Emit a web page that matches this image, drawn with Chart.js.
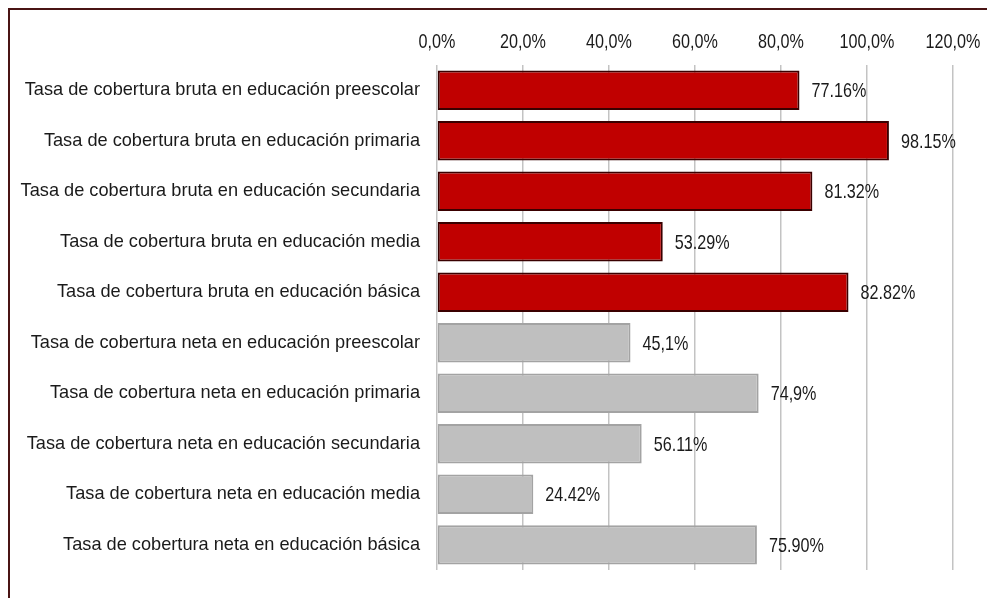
<!DOCTYPE html>
<html>
<head>
  <title>Tasa de cobertura</title>
  <style>
    body {
      margin: 0;
      background: #ffffff;
      overflow: hidden;
    }
    #wrap {
      position: relative;
      width: 987px;
      height: 598px;
    }
    #frame {
      position: absolute;
      left: 8px;
      top: 8px;
      width: 990px;
      height: 600px;
      border: 2px solid #4a1414;
      box-sizing: border-box;
      pointer-events: none;
    }
  </style>
  <script src="https://cdn.jsdelivr.net/npm/chart.js"></script>
</head>
<body>
  <div id="wrap">
    <canvas id="chart" width="987" height="598"></canvas>
    <div id="frame"></div>
  </div>

  <script>
    const categories = [
      'Tasa de cobertura bruta en educación preescolar',
      'Tasa de cobertura bruta en educación primaria',
      'Tasa de cobertura bruta en educación secundaria',
      'Tasa de cobertura bruta en educación media',
      'Tasa de cobertura bruta en educación básica',
      'Tasa de cobertura neta en educación preescolar',
      'Tasa de cobertura neta en educación primaria',
      'Tasa de cobertura neta en educación secundaria',
      'Tasa de cobertura neta en educación media',
      'Tasa de cobertura neta en educación básica'
    ];
    // bar lengths as drawn in the picture (they don't quite match the printed labels)
    const barValues = [84.3, 105.1, 87.3, 52.5, 95.7, 45.0, 74.8, 47.6, 22.4, 74.4];
    const valueLabels = ['77.16%', '98.15%', '81.32%', '53.29%', '82.82%', '45,1%', '74,9%', '56.11%', '24.42%', '75.90%'];
    const isBruta = [true, true, true, true, true, false, false, false, false, false];
    const tickValues = [0, 20, 40, 60, 80, 100, 120];
    const tickLabels = ['0,0%', '20,0%', '40,0%', '60,0%', '80,0%', '100,0%', '120,0%'];

    // no condensed font installed, so numbers are squeezed horizontally
    const numFont = "21px 'Liberation Sans', sans-serif";
    const squeeze = 0.77;

    function drawNarrow(ctx, text, x, y, align) {
      ctx.save();
      ctx.translate(x, y);
      ctx.scale(squeeze, 1);
      ctx.textAlign = align;
      ctx.fillText(text, 0, 0);
      ctx.restore();
    }

    const numberTextPlugin = {
      id: 'numberText',
      afterDatasetsDraw(chart) {
        const ctx = chart.ctx;
        const meta = chart.getDatasetMeta(0);
        const xScale = chart.scales.x;
        ctx.save();
        ctx.font = numFont;
        ctx.fillStyle = '#1a1a1a';
        ctx.textBaseline = 'middle';
        // value labels next to the bars
        meta.data.forEach((bar, i) => {
          drawNarrow(ctx, valueLabels[i], bar.x + 12, bar.y + 1, 'left');
        });
        // axis tick labels along the top
        tickValues.forEach((v, i) => {
          drawNarrow(ctx, tickLabels[i], xScale.getPixelForValue(v), 42, 'center');
        });
        ctx.restore();
      }
    };

    const ctx = document.getElementById('chart').getContext('2d');
    new Chart(ctx, {
      type: 'bar',
      data: {
        labels: categories,
        datasets: [{
          data: barValues,
          backgroundColor: isBruta.map(b => b ? '#c00000' : '#bfbfbf'),
          borderColor: isBruta.map(b => b ? '#3a0000' : '#a3a3a3'),
          borderWidth: 2,
          borderSkipped: false,
          barPercentage: 0.78,
          categoryPercentage: 1
        }]
      },
      options: {
        indexAxis: 'y',
        responsive: false,
        animation: false,
        layout: {
          padding: { top: 0, right: 34, bottom: 16, left: 0 }
        },
        plugins: {
          legend: { display: false },
          tooltip: { enabled: false }
        },
        scales: {
          x: {
            position: 'top',
            min: 0,
            max: 120,
            afterFit(scale) { scale.height = 65; },
            ticks: {
              stepSize: 20,
              display: false
            },
            grid: {
              color: '#c3c3c3',
              lineWidth: 1.5,
              drawTicks: false
            },
            border: { display: false }
          },
          y: {
            afterFit(scale) { scale.width = 437; },
            ticks: {
              padding: 17,
              color: '#1a1a1a',
              font: { family: "'Liberation Sans', sans-serif", size: 18.2 }
            },
            grid: { display: false, drawTicks: false },
            border: { display: false }
          }
        }
      },
      plugins: [numberTextPlugin]
    });
  </script>
</body>
</html>
